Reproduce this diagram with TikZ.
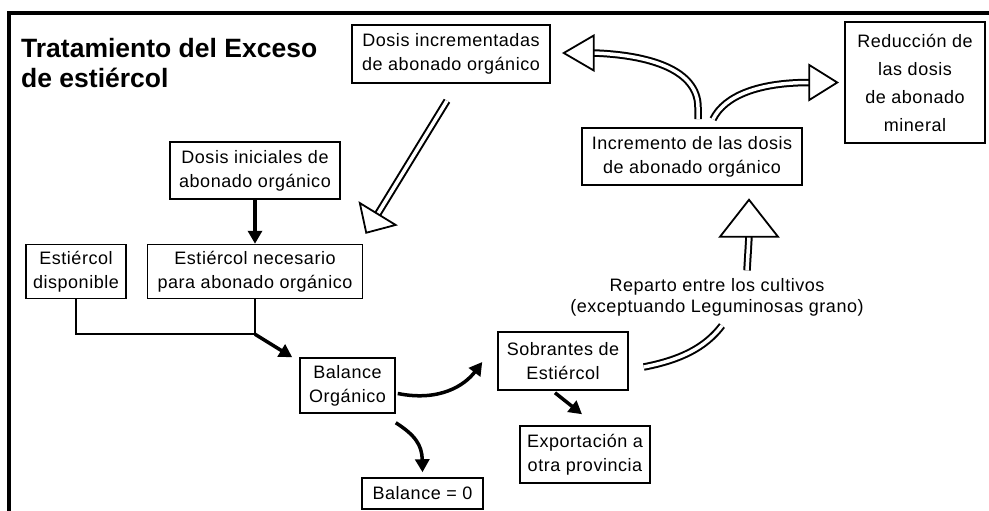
\documentclass[tikz,border=0pt]{standalone}
\usepackage{fontspec}
\setmainfont{Liberation Sans}[LetterSpace=3]
\newfontfamily\letratitulo{Liberation Sans}
\usetikzlibrary{arrows.meta}
\usetikzlibrary{calc}
\usetikzlibrary{positioning}

\newcommand{\puntahueca}[3]{%
  \draw[hueca, fill=white] ($(#1)!#3!90:(#2)$) -- (#2) -- ($(#1)!#3!-90:(#2)$) -- cycle;}

\begin{document}
\begin{tikzpicture}[x=1pt, y=-1pt,
  caja/.style={draw, line width=1.5pt, align=center, inner sep=0pt,
    font=\fontsize{18}{24}\selectfont},
  flecha/.style={line width=3.5pt, -{Triangle[length=13pt,width=14pt]}},
  tubo/.style={line width=2pt, double=white, double distance=3.5pt},
  hueca/.style={line width=1.8pt, line join=miter}]

 \useasboundingbox (0,0) rectangle (989,511);
 \draw[line width=3.5pt] (9,511) -- (9,13) -- (989,13);

 \node[anchor=north west, align=left, inner sep=0pt,
   font=\letratitulo\bfseries\fontsize{26.5}{30}\selectfont] (titulo) at (21,38)
   {Tratamiento del Exceso\\de estiércol};

 \node[caja, minimum width=198pt, minimum height=58pt] (incab) at (451,54) {Dosis incrementadas\\de abonado orgánico};
 \node[caja, minimum width=140pt, minimum height=121pt, font=\fontsize{18}{28}\selectfont] (reduc) at (915,82.5) {Reducción de\\las dosis\\de abonado\\mineral};
 \node[caja, minimum width=220pt, minimum height=57pt] (incre) at (692,156.5) {Incremento de las dosis\\de abonado orgánico};
 \node[caja, minimum width=170pt, minimum height=57pt] (inic) at (255,170.5) {Dosis iniciales de\\abonado orgánico};
 \node[caja, minimum width=215pt, minimum height=54pt, below=44pt of inic] (nec) {Estiércol necesario\\para abonado orgánico};
 \node[caja, minimum width=100pt, minimum height=54pt, left=20pt of nec] (disp) {Estiércol\\disponible};
 \node[caja, minimum width=95pt, minimum height=55pt] (bal) at (347.5,385.5) {Balance\\Orgánico};
 \node[caja, minimum width=130pt, minimum height=58pt] (sobr) at (563,361) {Sobrantes de\\Estiércol};
 \node[caja, minimum width=130pt, minimum height=57pt] (expo) at (585,454.5) {Exportación a\\otra provincia};
 \node[caja, minimum width=121pt, minimum height=31pt] (cero) at (422.5,493.5) {Balance = 0};
 \node[align=center, inner sep=0pt, font=\fontsize{18}{21}\selectfont] (reparto) at (717,297.5) {Reparto entre los cultivos\\(exceptuando Leguminosas grano)};

 \draw[flecha] (inic) -- (nec);
 \coordinate (union) at ($(nec.south)+(0,35)$);
 \draw[line width=2pt] (disp.south) |- (union) -- (nec.south);
 \draw[flecha] (union) -- ($(bal.north west)+(-7,0)$);
 \draw[flecha] ($(bal.east)+(2,8)$) .. controls (440,402) and (465,385) .. ($(sobr.west)+(-15,1)$);
 \draw[flecha] ($(bal.south east)+(0,9)$) .. controls (415,435) and (422,445) .. ($(cero.north)+(0,-5)$);
 \draw[flecha] ($(sobr.south)+(-8,2)$) -- ($(expo.north)+(-3,-11)$);

 \coordinate (r1) at ($(reparto.south)+(5,9)$);
 \draw[tubo] ($(sobr.east)+(15,6)$) .. controls (680,360) and (705,348) .. (r1);
 \coordinate (t2) at ($(incre.south)+(57,14)$);
 \coordinate (b2) at ($(t2)+(0,37)$);
 \draw[tubo] ($(reparto.north)+(30,-8)$) -- (b2);
 \puntahueca{b2}{t2}{29pt}

 \coordinate (t3) at ($(incab.east)+(13,-1)$);
 \coordinate (b3) at ($(t3)+(30,0)$);
 \draw[tubo] ($(incre.north)+(6,-8)$) -- ++(0,-12) .. controls (698,70) and (650,55) .. (b3);
 \puntahueca{b3}{t3}{17.5pt}

 \coordinate (t4) at ($(reduc.west)+(-7,0)$);
 \coordinate (b4) at ($(t4)+(-28,0)$);
 \draw[tubo] ($(incre.north)+(21,-8)$) .. controls (725,95) and (760,82.5) .. (b4);
 \puntahueca{b4}{t4}{17.5pt}

 \coordinate (s5) at ($(incab.south)+(-4,17)$);
 \coordinate (t5) at ($(nec.north east)+(3,-11)$);
 \coordinate (b5) at ($(t5)!22pt!(s5)$);
 \draw[tubo] (s5) -- (b5);
 \puntahueca{b5}{t5}{21pt}
\end{tikzpicture}
\end{document}
